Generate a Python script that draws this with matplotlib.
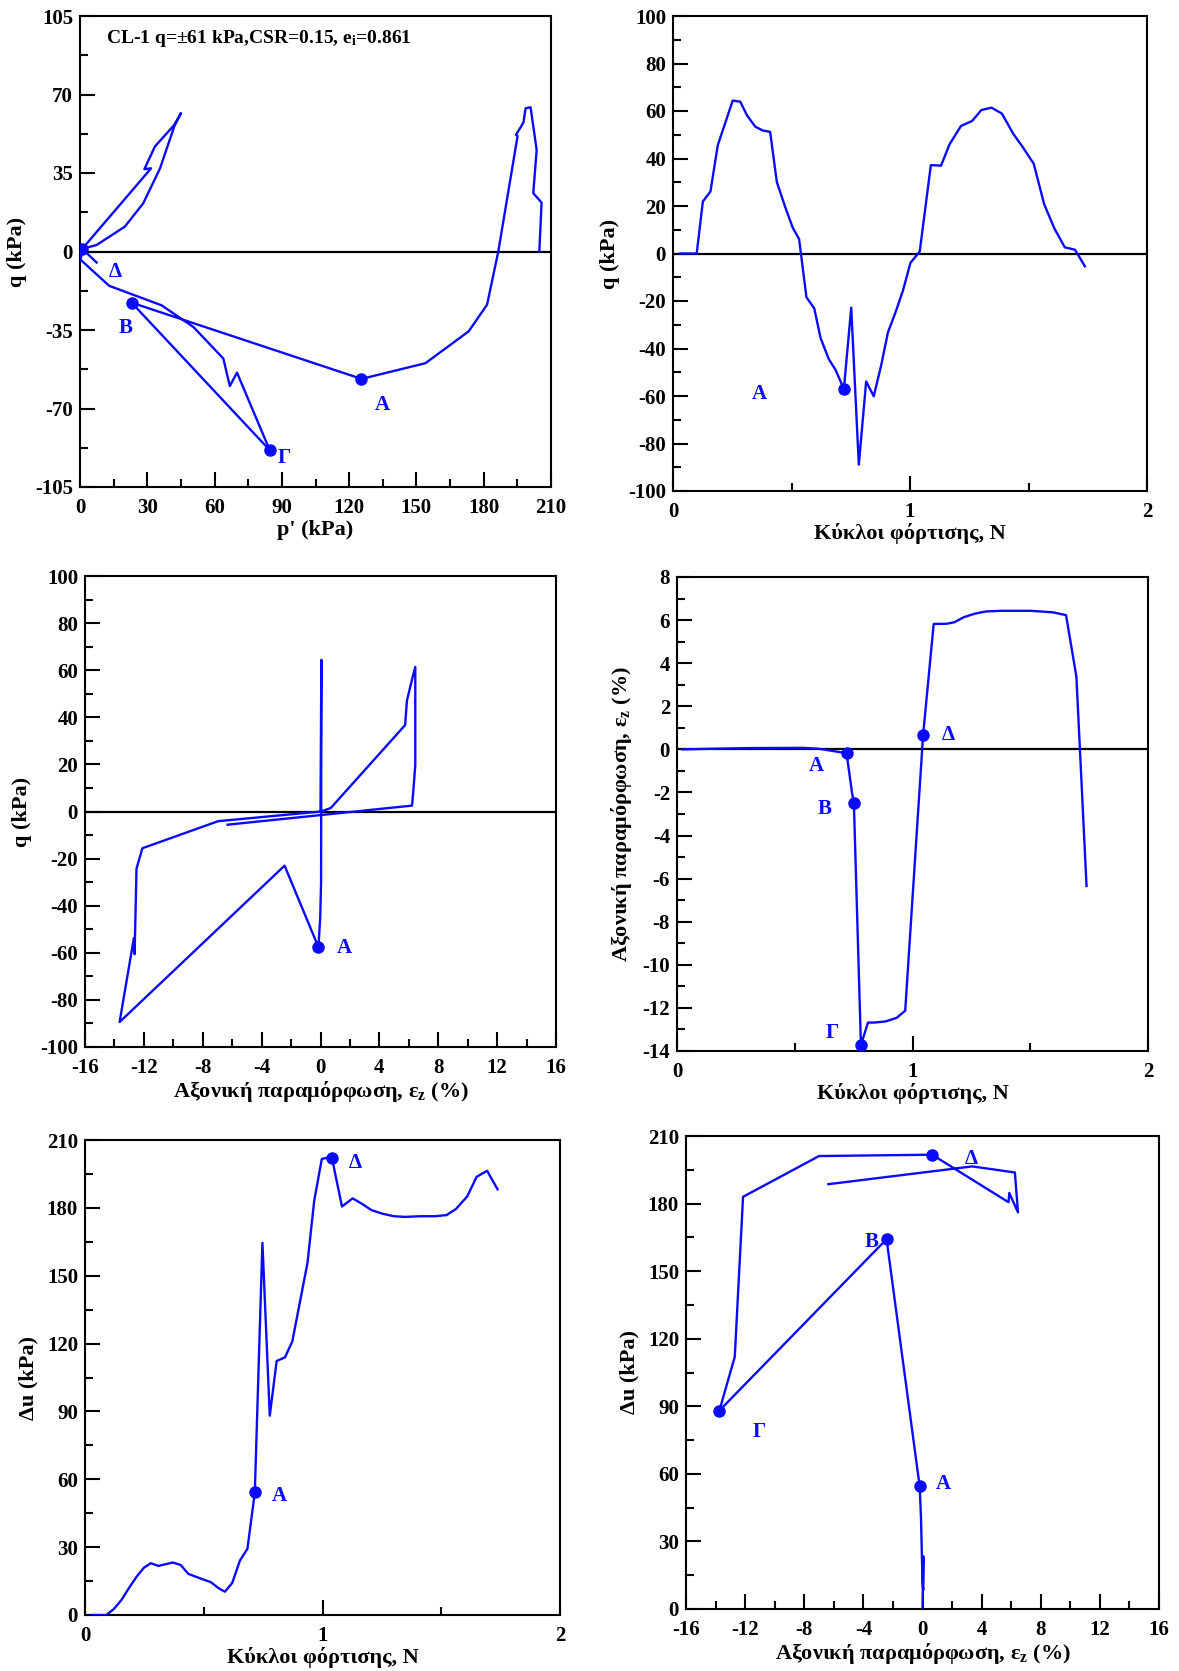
import matplotlib
matplotlib.use("Agg")
import matplotlib.pyplot as plt
from matplotlib.ticker import MultipleLocator

plt.rcParams['font.family'] = ['Liberation Serif', 'DejaVu Serif']
plt.rcParams['font.weight'] = 'bold'
plt.rcParams['axes.unicode_minus'] = False
plt.rcParams['mathtext.fontset'] = 'custom'
plt.rcParams['mathtext.rm'] = 'Liberation Serif:bold'
plt.rcParams['mathtext.it'] = 'Liberation Serif:bold'
plt.rcParams['mathtext.bf'] = 'Liberation Serif:bold'

BLUE = '#0a0aff'

# -- stress path (p', q)
p_path = [204.8, 205.8, 202.1, 203.6, 200.9, 198.7, 197.7, 194.4, 195.1, 186.5,
          181.5, 173.3, 154.0, 125.5, 23.0, 84.6, 70.0, 66.8, 63.9, 50.6,
          36.4, 13.0, 0.3, 1.0, 31.7, 28.7, 33.4, 42.0, 45.0, 42.0,
          35.7, 28.2, 20.0, 7.4, 1.0, 7.4]
q_path = [0.0, 21.8, 26.0, 45.3, 64.3, 63.9, 57.5, 52.0, 51.5, 0.0,
          -23.7, -35.6, -49.8, -56.8, -22.8, -88.6, -54.0, -60.0, -47.7, -33.7,
          -24.0, -15.3, -3.7, 1.2, 37.1, 36.7, 46.8, 56.4, 61.7, 55.7,
          37.1, 21.5, 11.1, 2.9, 1.2, -4.9]
p_pts = [125.5, 23.0, 84.6, 1.0]
q_pts = [-56.8, -22.8, -88.6, 1.2]

# -- q vs loading cycles
N_q = [0.03, 0.10, 0.126, 0.158, 0.189, 0.252, 0.284, 0.312, 0.347, 0.379,
       0.41, 0.438, 0.473, 0.505, 0.532, 0.563, 0.596, 0.623, 0.658, 0.686,
       0.721, 0.752, 0.784, 0.815, 0.847, 0.879, 0.907, 0.938, 0.97, 1.002,
       1.041, 1.088, 1.131, 1.167, 1.215, 1.262, 1.301, 1.344, 1.388, 1.435,
       1.475, 1.522, 1.566, 1.609, 1.653, 1.696, 1.738]
q_N = [0.0, 0.0, 21.9, 26.1, 45.6, 64.4, 63.9, 58.2, 53.4, 51.8,
       51.2, 30.1, 19.7, 10.9, 6.1, -18.4, -23.1, -35.7, -44.6, -49.0,
       -57.1, -22.8, -88.9, -53.9, -60.1, -46.8, -33.2, -25.0, -15.7, -3.9,
       0.8, 37.2, 37.0, 46.0, 53.7, 55.8, 60.4, 61.4, 58.9, 50.5,
       44.9, 37.8, 20.8, 10.6, 2.6, 1.6, -5.4]
N_q_pts = [0.721]
q_N_pts = [-57.1]

# -- q vs axial strain
eps_q = [0.0, 0.06, 0.04, -0.02, -0.14, -2.44, -13.65, -12.68, -12.63, -12.5,
         -12.1, -6.95, 0.05, 0.7, 5.75, 5.87, 6.13, 6.44, 6.44, 6.31,
         6.22, -6.31]
q_eps = [0.0, 64.4, -30.0, -45.0, -57.6, -23.0, -89.4, -53.8, -60.6, -24.2,
         -15.6, -4.1, 0.0, 1.5, 36.7, 47.0, 53.8, 61.4, 19.7, 9.1,
         2.5, -5.6]
eps_q_pts = [-0.14]
q_eps_pts = [-57.6]

# -- axial strain vs loading cycles
N_eps = [0.024, 0.30, 0.536, 0.60, 0.648, 0.72, 0.743, 0.751, 0.781, 0.811,
         0.838, 0.885, 0.933, 0.969, 1.045, 1.09, 1.145, 1.178, 1.217, 1.265,
         1.312, 1.375, 1.502, 1.597, 1.652, 1.696, 1.739]
eps_N = [0.0, 0.06, 0.07, 0.03, -0.05, -0.18, -2.0, -2.47, -13.72, -12.68,
         -12.68, -12.63, -12.46, -12.13, 0.67, 5.82, 5.83, 5.9, 6.13, 6.3,
         6.4, 6.43, 6.43, 6.36, 6.23, 3.37, -6.34]
N_eps_pts = [0.72, 0.751, 0.781, 1.045]
eps_N_pts = [-0.18, -2.47, -13.72, 0.67]

# -- excess pore pressure vs loading cycles
N_du = [0.027, 0.09, 0.122, 0.153, 0.185, 0.217, 0.248, 0.277, 0.309, 0.37,
        0.403, 0.435, 0.467, 0.53, 0.562, 0.589, 0.62, 0.652, 0.684, 0.715,
        0.747, 0.778, 0.807, 0.842, 0.873, 0.937, 0.965, 0.997, 1.016, 1.04,
        1.082, 1.127, 1.166, 1.206, 1.253, 1.301, 1.348, 1.411, 1.475, 1.522,
        1.562, 1.609, 1.649, 1.693, 1.737]
du_N = [0.0, 0.0, 2.7, 6.6, 11.9, 16.9, 20.9, 22.9, 21.7, 23.2,
        22.1, 18.2, 16.9, 14.5, 11.9, 10.3, 14.2, 24.0, 29.3, 54.2,
        164.5, 88.1, 112.3, 113.9, 121.0, 155.8, 183.1, 201.6, 202.1, 201.9,
        180.6, 184.2, 181.8, 179.0, 177.4, 176.3, 176.0, 176.3, 176.3, 176.8,
        179.5, 185.0, 193.7, 196.4, 188.2]
N_du_pts = [0.715, 1.04]
du_N_pts = [54.2, 201.9]

# -- excess pore pressure vs axial strain
eps_du = [0.0, 0.06, 0.05, 0.0, -0.1, -0.19, -2.43, -13.74, -12.7, -12.14,
          -7.0, 0.65, 5.82, 5.87, 6.46, 6.25, 3.37, -6.37]
du_eps = [0.0, 23.4, 8.3, 12.0, 40.0, 54.4, 164.2, 88.1, 112.0, 183.0,
          201.1, 201.7, 180.6, 184.7, 176.1, 193.8, 196.5, 188.6]
eps_du_pts = [-0.19, -2.43, -13.74, 0.65]
du_eps_pts = [54.4, 164.2, 88.1, 201.7]

W, H = 1179, 1671
fig = plt.figure(figsize=(W / 100, H / 100), dpi=100)


def make_axes(left, right, top, bottom):
    return fig.add_axes([left / W, 1 - bottom / H, (right - left) / W, (bottom - top) / H])


def style(ax, xlim, ylim, xmaj, xmin, ymaj, ymin, xlabel, ylabel, zero=False):
    ax.set_xlim(*xlim)
    ax.set_ylim(*ylim)
    ax.xaxis.set_major_locator(MultipleLocator(xmaj))
    ax.xaxis.set_minor_locator(MultipleLocator(xmin))
    ax.yaxis.set_major_locator(MultipleLocator(ymaj))
    ax.yaxis.set_minor_locator(MultipleLocator(ymin))
    ax.tick_params(which='both', direction='in', width=1.5, top=False, right=False,
                   labelsize=15)
    ax.tick_params(which='major', length=11)
    ax.tick_params(which='minor', length=6)
    ax.tick_params(axis='x', which='major', pad=8)
    ax.tick_params(axis='y', which='major', pad=5)
    for s in ax.spines.values():
        s.set_linewidth(1.5)
    ax.set_xlabel(xlabel, fontsize=16, fontweight='bold', labelpad=1)
    ax.set_ylabel(ylabel, fontsize=16, fontweight='bold', labelpad=6)
    if zero:
        ax.axhline(0, color='black', lw=1.6, zorder=1)


def tag(ax, x, y, s):
    ax.text(x, y, s, color=BLUE, fontsize=15, fontweight='bold', ha='center', va='center')


strain_lbl = 'Αξονική παραμόρφωση, ε$_{z}$ (%)'
cycles_lbl = 'Κύκλοι φόρτισης, N'

# p' - q
ax1 = make_axes(80, 551, 16, 487)
style(ax1, (0, 210), (-105, 105), 30, 15, 35, 17.5, "p' (kPa)", 'q (kPa)', zero=True)
ax1.plot(p_path, q_path, color=BLUE, lw=1.7, zorder=3)
ax1.plot(p_pts, q_pts, 'o', color=BLUE, ms=8, zorder=4)
tag(ax1, 135, -68.6, 'A')
tag(ax1, 20.3, -34.2, 'Β')
tag(ax1, 91, -92, 'Γ')
tag(ax1, 15.9, -9.2, 'Δ')
ax1.text(11.7, 95, 'CL-1 q=±61 kPa,CSR=0.15, e$_{i}$=0.861', fontsize=14,
         fontweight='bold', ha='left', va='center')

# q - N
ax2 = make_axes(673, 1147, 16, 491)
style(ax2, (0, 2), (-100, 100), 1, 0.5, 20, 10, cycles_lbl, 'q (kPa)', zero=True)
ax2.plot(N_q, q_N, color=BLUE, lw=1.7, zorder=3)
ax2.plot(N_q_pts, q_N_pts, 'o', color=BLUE, ms=8, zorder=4)
tag(ax2, 0.366, -59.3, 'A')

# q - strain
ax3 = make_axes(85, 556, 576, 1047)
style(ax3, (-16, 16), (-100, 100), 4, 2, 20, 10, strain_lbl, 'q (kPa)', zero=True)
ax3.plot(eps_q, q_eps, color=BLUE, lw=1.7, zorder=3)
ax3.plot(eps_q_pts, q_eps_pts, 'o', color=BLUE, ms=8, zorder=4)
tag(ax3, 1.6, -57.9, 'A')

# strain - N
ax4 = make_axes(677, 1148, 577, 1051)
style(ax4, (0, 2), (-14, 8), 1, 0.5, 2, 1, cycles_lbl, strain_lbl, zero=True)
ax4.plot(N_eps, eps_N, color=BLUE, lw=1.7, zorder=3)
ax4.plot(N_eps_pts, eps_N_pts, 'o', color=BLUE, ms=8, zorder=4)
tag(ax4, 0.593, -0.77, 'A')
tag(ax4, 0.629, -2.75, 'Β')
tag(ax4, 0.661, -13.17, 'Γ')
tag(ax4, 1.154, 0.67, 'Δ')

# du - N
ax5 = make_axes(85, 560, 1140, 1615)
style(ax5, (0, 2), (0, 210), 1, 0.5, 30, 15, cycles_lbl, 'Δu (kPa)')
ax5.plot(N_du, du_N, color=BLUE, lw=1.7, zorder=3)
ax5.plot(N_du_pts, du_N_pts, 'o', color=BLUE, ms=8, zorder=4)
tag(ax5, 0.818, 52.5, 'A')
tag(ax5, 1.139, 200, 'Δ')

# du - strain
ax6 = make_axes(686, 1159, 1136, 1609)
style(ax6, (-16, 16), (0, 210), 4, 2, 30, 15, strain_lbl, 'Δu (kPa)')
ax6.plot(eps_du, du_eps, color=BLUE, lw=1.7, zorder=3)
ax6.plot(eps_du_pts, du_eps_pts, 'o', color=BLUE, ms=8, zorder=4)
tag(ax6, 1.41, 55.5, 'A')
tag(ax6, -3.44, 163, 'Β')
tag(ax6, -11.07, 78.6, 'Γ')
tag(ax6, 3.29, 200, 'Δ')

fig.savefig('out.png', dpi=100)
